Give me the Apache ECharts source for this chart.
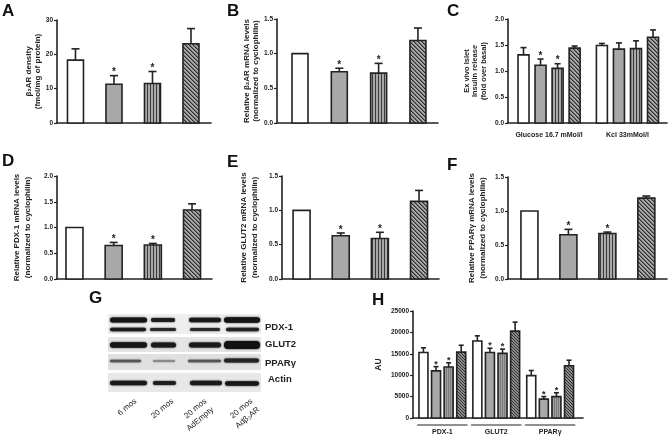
<!DOCTYPE html>
<html><head><meta charset="utf-8">
<script src="https://cdn.jsdelivr.net/npm/echarts@6/dist/echarts.min.js"></script>
<style>html,body{margin:0;padding:0;background:#fff}#c{width:668px;height:438px}</style>
</head><body><div id="c"></div><script>
// ---------- data ----------
const conditions = ['6 mos', '20 mos', '20 mos AdEmpty', '20 mos Adβ2AR'];
const aValues = [18.3, 11.3, 11.5, 23.1];
const aErrors = [21.6, 13.8, 15.0, 27.5];
const bValues = [1.0, 0.74, 0.72, 1.19];
const bErrors = [1.0, 0.79, 0.86, 1.37];
const cGroups = ['Glucose 16.7 mMol/l', 'Kcl 33mMol/l'];
const cGlucoseValues = [1.31, 1.11, 1.05, 1.44];
const cGlucoseErrors = [1.45, 1.23, 1.14, 1.48];
const cKclValues = [1.49, 1.42, 1.43, 1.65];
const cKclErrors = [1.53, 1.54, 1.58, 1.79];
const dValues = [1.0, 0.65, 0.66, 1.34];
const dErrors = [1.0, 0.71, 0.69, 1.46];
const eValues = [1.0, 0.63, 0.59, 1.13];
const eErrors = [1.0, 0.67, 0.68, 1.29];
const fValues = [1.0, 0.65, 0.67, 1.19];
const fErrors = [1.0, 0.73, 0.69, 1.22];
const hGroups = ['PDX-1', 'GLUT2', 'PPARγ'];
const hPdxValues = [15300, 11000, 11900, 15400];
const hPdxErrors = [16400, 12000, 12900, 17000];
const hGlutValues = [18000, 15300, 15100, 20300];
const hGlutErrors = [19200, 16300, 16100, 22400];
const hPparValues = [9900, 4400, 5000, 12200];
const hPparErrors = [11100, 5000, 5900, 13500];
const sigStd = [0, 1, 1, 0];
const sigNone = [0, 0, 0, 0];
const blotProteins = ['PDX-1', 'GLUT2', 'PPARγ', 'Actin'];
const laneLabels = ['6 mos', '20 mos', '20 mos\nAdEmpty', '20 mos\nAdβ₂AR'];
const yTickFmt1 = v => v.toFixed(1);
const yTickFmt0 = v => String(v);

// ---------- styling ----------
const FONT = '"Liberation Sans", Arial, Helvetica, sans-serif';
const INK = '#222';
const GRAY = '#a8a8a8';
function pattern(kind) {
  const c = document.createElement('canvas');
  const g = c.getContext('2d');
  if (kind === 'v') {
    c.width = 3; c.height = 4;
    g.fillStyle = GRAY; g.fillRect(0, 0, 3, 4);
    g.fillStyle = '#3a3a3a'; g.fillRect(0, 0, 1, 4);
  } else if (kind === 'd') {
    c.width = 4; c.height = 4;
    g.fillStyle = GRAY; g.fillRect(0, 0, 4, 4);
    for (let i = 0; i < 4; i++) { g.fillStyle = '#2e2e2e'; g.fillRect(i, i, 1, 1); g.fillStyle = '#6a6a6a'; g.fillRect((i + 1) % 4, i, 1, 1); }
  } else if (kind === 'h') {
    c.width = 3; c.height = 3;
    g.fillStyle = '#8a8a8a'; g.fillRect(0, 0, 3, 3);
    for (let i = 0; i < 3; i++) { g.fillStyle = '#333'; g.fillRect(i, i, 1, 1); }
  } else if (kind === 'hv') {
    c.width = 2; c.height = 3;
    g.fillStyle = '#a0a0a0'; g.fillRect(0, 0, 2, 3);
    g.fillStyle = '#7a7a7a'; g.fillRect(0, 0, 1, 3);
  }
  return { image: c, repeat: 'repeat' };
}
const fillsStd = ['#ffffff', GRAY, pattern('v'), pattern('d')];
const fillsH = ['#ffffff', GRAY, pattern('hv'), pattern('h')];

const panels = [
  { left: 57, top: 20, width: 154, height: 103, xmin: -0.48, xmax: 3.52, ymax: 30, yint: 10, fmt: yTickFmt0, bw: 16, cap: 4, gstride: 0,
    vals: [aValues], errs: [aErrors], sig: [sigStd], name: 'β₂AR density\n(fmol/mg of protein)', nameGap: 12, lh: 8.5, nameSize: 8, fills: fillsStd, star: 10 },
  { left: 277, top: 19, width: 161, height: 104, xmin: -0.585, xmax: 3.51, ymax: 1.5, yint: 0.5, fmt: yTickFmt1, bw: 16, cap: 4, gstride: 0,
    vals: [bValues], errs: [bErrors], sig: [sigStd], name: 'Relative β₂AR mRNA levels\n(normalized to cyclophilin)', nameGap: 17, lh: 8.5, nameSize: 8, fills: fillsStd, star: 10 },
  { left: 508, top: 19, width: 159, height: 104, xmin: -0.91, xmax: 8.42, ymax: 2.0, yint: 0.5, fmt: yTickFmt1, bw: 11, cap: 3, gstride: 4.6,
    vals: [cGlucoseValues, cKclValues], errs: [cGlucoseErrors, cKclErrors], sig: [sigStd, sigNone], groups: cGroups,
    name: 'Ex vivo Islet\nInsulin release\n(fold over basal)', nameGap: 20, lh: 8.5, nameSize: 7.5, fills: fillsStd, star: 10 },
  { left: 57, top: 176, width: 155, height: 103, xmin: -0.446, xmax: 3.51, ymax: 2.0, yint: 0.5, fmt: yTickFmt1, bw: 17, cap: 4, gstride: 0,
    vals: [dValues], errs: [dErrors], sig: [sigStd], name: 'Relative PDX-1 mRNA levels\n(normalized to cyclophilin)', nameGap: 24, lh: 11, nameSize: 8, fills: fillsStd, star: 10 },
  { left: 282, top: 176, width: 157, height: 103, xmin: -0.5, xmax: 3.51, ymax: 1.5, yint: 0.5, fmt: yTickFmt1, bw: 17, cap: 4, gstride: 0,
    vals: [eValues], errs: [eErrors], sig: [sigStd], name: 'Relative GLUT2 mRNA levels\n(normalized to cyclophilin)', nameGap: 22, lh: 11, nameSize: 8, fills: fillsStd, star: 10 },
  { left: 508, top: 177, width: 159, height: 102, xmin: -0.55, xmax: 3.53, ymax: 1.5, yint: 0.5, fmt: yTickFmt1, bw: 17, cap: 4, gstride: 0,
    vals: [fValues], errs: [fErrors], sig: [sigStd], name: 'Relative PPARγ mRNA levels\n(normalized to cyclophilin)', nameGap: 20, lh: 11, nameSize: 8, fills: fillsStd, star: 10 },
  { left: 413, top: 311, width: 170, height: 107, xmin: -0.83, xmax: 12.67, ymax: 25000, yint: 5000, fmt: yTickFmt0, bw: 9, cap: 2.5, gstride: 4.28,
    vals: [hPdxValues, hGlutValues, hPparValues], errs: [hPdxErrors, hGlutErrors, hPparErrors], sig: [sigStd, sigStd, sigStd], groups: hGroups, underline: true,
    name: 'AU', nameGap: 29, lh: 10, nameSize: 8.5, fills: fillsH, star: 9 }
];

const grid = [], xAxis = [], yAxis = [], series = [];
panels.forEach((p, i) => {
  grid.push({ left: p.left, top: p.top, width: p.width, height: p.height, containLabel: false });
  xAxis.push({ type: 'value', gridIndex: i, min: p.xmin, max: p.xmax, axisLine: { show: true, onZero: false, lineStyle: { color: INK, width: 1.6 } },
    axisTick: { show: false }, axisLabel: { show: false }, splitLine: { show: false } });
  yAxis.push({ type: 'value', gridIndex: i, min: 0, max: p.ymax, interval: p.yint,
    axisLine: { show: true, onZero: false, lineStyle: { color: INK, width: 1.6 } },
    axisTick: { show: true, length: 3, lineStyle: { color: INK, width: 1.2 } },
    axisLabel: { fontSize: 6.5, fontWeight: 'bold', color: INK, margin: 4, fontFamily: FONT, formatter: p.fmt },
    splitLine: { show: false },
    name: p.name, nameLocation: 'middle', nameGap: p.nameGap, nameRotate: 90,
    nameTextStyle: { fontSize: p.nameSize, fontWeight: 'bold', color: INK, lineHeight: p.lh, fontFamily: FONT } });
  const data = [];
  p.vals.forEach((arr, g) => arr.forEach((v, b) => data.push([g * p.gstride + b, v, p.errs[g][b], b, p.sig[g][b]])));
  series.push({
    type: 'custom', xAxisIndex: i, yAxisIndex: i, data, clip: false,
    renderItem: (params, api) => {
      const x = api.value(0), v = api.value(1), e = api.value(2), k = api.value(3), s = api.value(4);
      const top = api.coord([x, v]), base = api.coord([x, 0]), et = api.coord([x, e]);
      const hw = p.bw / 2;
      const ch = [{ type: 'rect', shape: { x: top[0] - hw, y: top[1], width: p.bw, height: base[1] - top[1] },
        style: { fill: p.fills[k], stroke: INK, lineWidth: 1.6 } }];
      let capY = top[1];
      if (e > v + 1e-9) {
        ch.push({ type: 'line', shape: { x1: top[0], y1: top[1], x2: top[0], y2: et[1] }, style: { stroke: INK, lineWidth: 1.6 } });
        ch.push({ type: 'line', shape: { x1: top[0] - p.cap, y1: et[1], x2: top[0] + p.cap, y2: et[1] }, style: { stroke: INK, lineWidth: 1.6 } });
        capY = et[1];
      }
      if (s) ch.push({ type: 'text', style: { text: '*', x: top[0], y: capY + 2, align: 'center', verticalAlign: 'bottom',
        fontSize: p.star, fontWeight: 'bold', fontFamily: FONT, fill: INK } });
      return { type: 'group', children: ch };
    }
  });
  if (p.groups) {
    const gdata = p.groups.map((name, g) => [g * p.gstride + 1.5, 0, g]);
    series.push({
      type: 'custom', xAxisIndex: i, yAxisIndex: i, data: gdata, clip: false,
      renderItem: (params, api) => {
        const x = api.value(0), g = api.value(2);
        const c = api.coord([x, 0]);
        const ch = [];
        if (p.underline) {
          const l = api.coord([x - 2.0, 0]), r = api.coord([x + 2.0, 0]);
          ch.push({ type: 'line', shape: { x1: l[0], y1: c[1] + 7, x2: r[0], y2: c[1] + 7 }, style: { stroke: INK, lineWidth: 1 } });
          ch.push({ type: 'text', style: { text: p.groups[g], x: c[0], y: c[1] + 14, align: 'center', verticalAlign: 'middle',
            fontSize: 7, fontWeight: 'bold', fontFamily: FONT, fill: INK } });
        } else {
          ch.push({ type: 'text', style: { text: p.groups[g], x: c[0], y: c[1] + 12, align: 'center', verticalAlign: 'middle',
            fontSize: 7, fontWeight: 'bold', fontFamily: FONT, fill: INK } });
        }
        return { type: 'group', children: ch };
      }
    });
  }
});

// ---------- graphic: panel letters + western blot (G) ----------
const graphic = [];
[['A', 2, 3], ['B', 227, 3], ['C', 447, 3], ['D', 2, 153], ['E', 227, 154], ['F', 447, 157], ['G', 89, 290], ['H', 372, 292]].forEach(([t, x, y]) =>
  graphic.push({ type: 'text', x, y, style: { text: t, fontSize: 17, fontWeight: 'bold', fontFamily: FONT, fill: '#111', verticalAlign: 'top' } }));

const blotRows = [{ y: 314, h: 20, bg: '#eeeeee' }, { y: 337, h: 15, bg: '#e4e4e4' }, { y: 354, h: 16, bg: '#e0e0e0' }, { y: 373, h: 19, bg: '#e8e8e8' }];
blotRows.forEach(r => graphic.push({ type: 'rect', shape: { x: 108, y: r.y, width: 153, height: r.h }, style: { fill: r.bg } }));
const bands = [
  [110, 147, 320, 5, '#141414'], [151, 175, 320, 4, '#1c1c1c'], [189, 221, 320, 4.5, '#181818'], [224, 260, 320, 5.5, '#141414'],
  [110, 146, 329.5, 3.5, '#1c1c1c'], [150, 176, 329.5, 3, '#2a2a2a'], [190, 220, 329.5, 3, '#2a2a2a'], [226, 259, 329.5, 3.5, '#222'],
  [110, 147, 345, 5.5, '#161616'], [151, 176, 345, 5, '#1a1a1a'], [189, 221, 345, 5, '#1a1a1a'], [224, 260, 345, 8, '#121212'],
  [110, 141, 361, 2.5, '#555'], [153, 175, 361, 2, '#8a8a8a'], [188, 221, 361, 2.5, '#555'], [224, 259, 360.5, 4, '#222'],
  [110, 147, 383, 4.5, '#1a1a1a'], [153, 176, 383, 4, '#1e1e1e'], [190, 222, 383, 4.5, '#1a1a1a'], [225, 259, 383.5, 4.5, '#181818']
];
bands.forEach(([x1, x2, yc, h, col]) => graphic.push({ type: 'rect', shape: { x: x1, y: yc - h / 2, width: x2 - x1, height: h, r: h / 2 },
  style: { fill: col, shadowBlur: 2, shadowColor: col } }));
const protY = [327, 344, 363, 379];
blotProteins.forEach((t, i) => graphic.push({ type: 'text', x: i === 3 ? 268 : 265, y: protY[i],
  style: { text: t, fontSize: 9.5, fontWeight: 'bold', fontFamily: FONT, fill: INK, verticalAlign: 'middle' } }));
const laneAnchor = [[132, 396], [169, 396], [202, 396], [248, 396]];
laneLabels.forEach((t, i) => graphic.push({ type: 'text', x: laneAnchor[i][0], y: laneAnchor[i][1], rotation: Math.PI * 40 / 180,
  style: { text: t, fontSize: 8, fontFamily: FONT, fill: INK, align: 'right', verticalAlign: 'top', lineHeight: 11 } }));

const chart = echarts.init(document.getElementById('c'), null, { renderer: 'canvas' });
chart.setOption({ animation: false, backgroundColor: '#fff', textStyle: { fontFamily: FONT }, grid, xAxis, yAxis, series, graphic });
</script></body></html>
